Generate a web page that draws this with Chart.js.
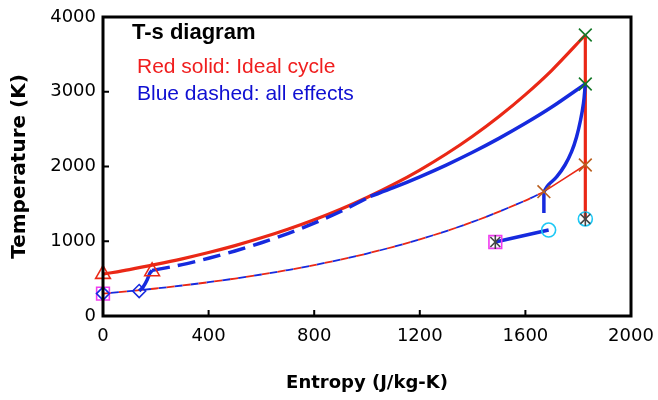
<!DOCTYPE html>
<html><head><meta charset="utf-8">
<script src="https://cdn.jsdelivr.net/npm/chart.js@4.4.1/dist/chart.umd.min.js"></script>
<style>html,body{margin:0;padding:0;background:#fff}</style>
</head><body>
<canvas id="c" width="658" height="400"></canvas>
<script>
// ---- axis tick values ----
const xTickValues = [0, 400, 800, 1200, 1600, 2000];
const yTickValues = [0, 1000, 2000, 3000, 4000];

// ---- annotation texts ----
const noteTitle = "T-s diagram";
const noteRed = "Red solid: Ideal cycle";
const noteBlue = "Blue dashed: all effects";

// ---- Red (ideal) heat addition isobar ----
const redHotS = [0, 100, 200, 300, 400, 500, 600, 700, 800, 900, 1000, 1100, 1200, 1300, 1400, 1500, 1600, 1700, 1827];
const redHotT = [560, 621, 690, 765, 849, 942, 1046, 1161, 1288, 1429, 1586, 1760, 1953, 2167, 2405, 2669, 2962, 3287, 3759];
// Red isentropic expansion
const redExpS = [1827, 1827];
const redExpT = [3759, 1298];
// Red thin tail of ambient isobar
const redTailS = [1670, 1827];
const redTailT = [1663, 2020];
// Ambient isobar (red & blue dashed)
const lowS = [0, 200, 400, 600, 800, 1000, 1200, 1400, 1600, 1670];
const lowT = [300, 368, 452, 555, 681, 835, 1025, 1258, 1544, 1663];

// ---- Blue (all effects) ----
const blueCompS = [137, 152, 167, 178, 186];
const blueCompT = [334, 388, 482, 575, 610];
const blueDashS = [186, 300, 400, 500, 600, 700, 800, 900, 1013];
const blueDashT = [610, 687, 773, 870, 980, 1103, 1242, 1398, 1599];
const blueHotS = [1013, 1100, 1200, 1300, 1400, 1500, 1600, 1700, 1827];
const blueHotT = [1599, 1716, 1862, 2019, 2190, 2376, 2577, 2795, 3104];
const blueExpS = [1827, 1820, 1809, 1794, 1775, 1750, 1719, 1687, 1670];
const blueExpT = [3104, 2845, 2622, 2399, 2198, 2020, 1863, 1753, 1663];
const blueDropS = [1670, 1670];
const blueDropT = [1663, 1378];
const blueLowS = [1486, 1688];
const blueLowT = [990, 1150];

// ---- markers ----
const triS = [0, 186], triT = [560, 596];
const diaS = [0, 137], diaT = [300, 334];
const sqS = [0, 1486], sqT = [300, 990];
const greenXS = [1827, 1827], greenXT = [3759, 3104];
const orangeXS = [1670, 1827], orangeXT = [1663, 2020];
const circS = [1688, 1827], circT = [1150, 1298];
const starS = [1486, 1827], starT = [990, 1298];

const RED = 'rgb(234,40,22)';
const BLUE = 'rgb(22,42,222)';

function pts(s, t) { return s.map((v, i) => ({x: v, y: t[i]})); }
function line(s, t, color, width, dash, offset, tension) {
  return {data: pts(s, t), showLine: true, borderColor: color, borderWidth: width,
    borderDash: dash || [], borderDashOffset: offset || 0, pointRadius: 0,
    tension: tension === undefined ? 0.3 : tension,
    fill: false, borderCapStyle: 'butt', clip: false};
}
function mark(s, t, style, color, r, rot) {
  return {data: pts(s, t), showLine: false, pointStyle: style, pointRadius: r,
    pointBorderColor: color, pointBackgroundColor: 'rgba(0,0,0,0)', pointBorderWidth: 1.6,
    pointRotation: rot || 0, clip: false};
}

const datasets = [
  mark(starS, starT, 'crossRot', '#444', 7),
  mark(starS, starT, 'line', '#444', 7, 90),
  mark(circS, circT, 'circle', 'rgb(30,200,245)', 7),
  mark(greenXS, greenXT, 'crossRot', 'rgb(20,120,40)', 9),
  mark(orangeXS, orangeXT, 'crossRot', 'rgb(185,95,30)', 9),
  mark(triS, triT, 'triangle', RED, 8.5),
  mark(diaS, diaT, 'rectRot', BLUE, 6.5),
  mark(sqS, sqT, 'rect', 'rgb(240,60,240)', 9),
  line(blueCompS, blueCompT, BLUE, 3.5),
  line(blueDashS, blueDashT, BLUE, 3.5, [18, 8]),
  line(blueHotS, blueHotT, BLUE, 3.5),
  line(blueExpS, blueExpT, BLUE, 3.5, null, 0, 0.4),
  line(blueDropS, blueDropT, BLUE, 3.5),
  line(blueLowS, blueLowT, BLUE, 3.5),
  line(redHotS, redHotT, RED, 3.2),
  line(redExpS, redExpT, RED, 3.2),
  line(redTailS, redTailT, RED, 1.6),
  line(lowS, lowT, RED, 1.8, [8, 8], 0),
  line(lowS, lowT, BLUE, 1.8, [8, 8], 8),
];

const framePlugin = {
  id: 'frame',
  afterDatasetsDraw(chart) {
    const {ctx, chartArea: a, scales} = chart;
    ctx.save();
    ctx.strokeStyle = '#000';
    ctx.lineWidth = 3;
    ctx.strokeRect(a.left, a.top, a.right - a.left, a.bottom - a.top);
    ctx.lineWidth = 2;
    ctx.beginPath();
    xTickValues.forEach(v => { const x = scales.x.getPixelForValue(v); ctx.moveTo(x, a.bottom); ctx.lineTo(x, a.bottom - 6); });
    yTickValues.forEach(v => { const y = scales.y.getPixelForValue(v); ctx.moveTo(a.left, y); ctx.lineTo(a.left + 6, y); });
    ctx.stroke();
    ctx.textBaseline = 'alphabetic';
    ctx.textAlign = 'left';
    ctx.fillStyle = '#000';
    ctx.font = 'bold 22px "Liberation Sans", Arial, sans-serif';
    ctx.fillText(noteTitle, a.left + 29, a.top + 22);
    ctx.font = '21px "Liberation Sans", Arial, sans-serif';
    ctx.fillStyle = 'rgb(240,30,30)';
    ctx.fillText(noteRed, a.left + 34, a.top + 56);
    ctx.fillStyle = 'rgb(15,15,210)';
    ctx.fillText(noteBlue, a.left + 34, a.top + 83);
    ctx.restore();
  }
};

new Chart(document.getElementById('c'), {
  type: 'scatter',
  data: {datasets},
  plugins: [framePlugin],
  options: {
    responsive: false,
    animation: false,
    layout: {padding: {top: 17, right: 27, left: 0, bottom: 0}},
    plugins: {legend: {display: false}, tooltip: {enabled: false}},
    scales: {
      x: {
        type: 'linear', min: 0, max: 2000,
        afterFit(s) { s.height = 84; s.paddingLeft = 0; s.paddingRight = 0; },
        afterBuildTicks(s) { s.ticks = xTickValues.map(v => ({value: v})); },
        grid: {display: false, drawTicks: false}, border: {display: false},
        ticks: {color: '#000', padding: 10, callback: v => String(v), font: {family: '"DejaVu Sans"', size: 18}},
        title: {display: true, text: 'Entropy (J/kg-K)', color: '#000', padding: {top: 0, bottom: 6},
          font: {family: '"DejaVu Sans"', size: 18, weight: 'bold'}}
      },
      y: {
        type: 'linear', min: 0, max: 4000,
        afterFit(s) { s.width = 103; s.paddingTop = 0; s.paddingBottom = 0; },
        afterBuildTicks(s) { s.ticks = yTickValues.map(v => ({value: v})); },
        grid: {display: false, drawTicks: false}, border: {display: false},
        ticks: {color: '#000', padding: 7, callback: v => String(v), font: {family: '"DejaVu Sans"', size: 18}},
        title: {display: true, text: 'Temperature (K)', color: '#000', padding: {top: 8, bottom: 0},
          font: {family: '"DejaVu Sans"', size: 20, weight: 'bold'}}
      }
    }
  }
});
</script>
</body></html>
